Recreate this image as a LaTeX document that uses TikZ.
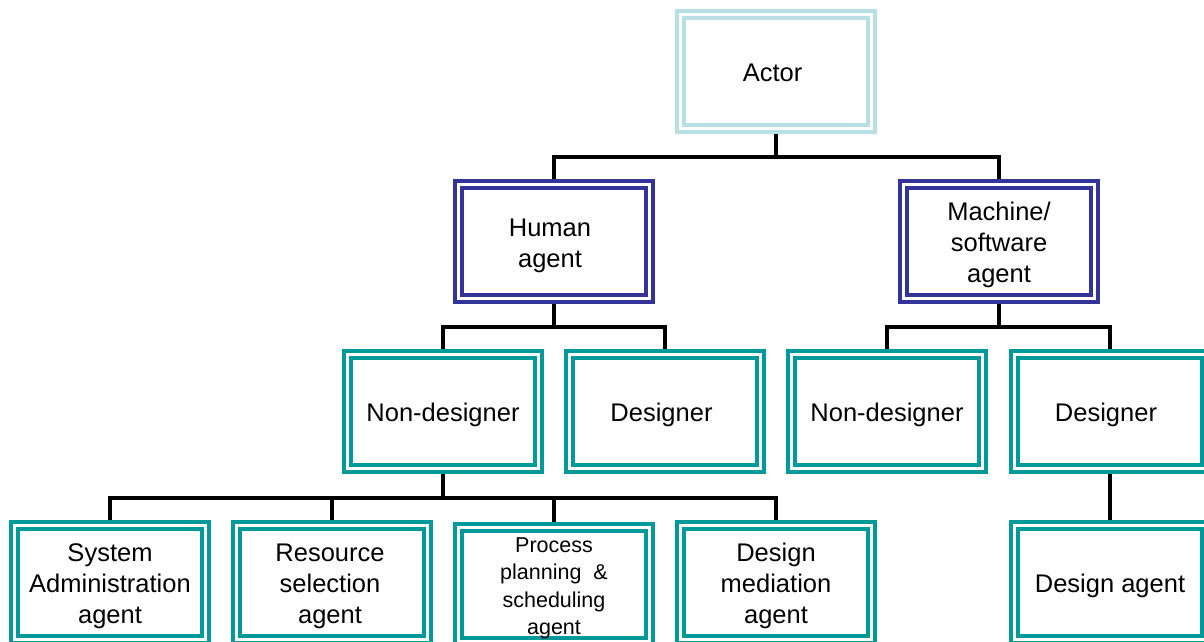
\documentclass[tikz,border=0pt]{standalone}
\usepackage{fontspec}
\setmainfont{Liberation Sans}
\usetikzlibrary{backgrounds}
\definecolor{actorc}{RGB}{184,224,228}
\definecolor{humanc}{RGB}{51,51,153}
\definecolor{tealc}{RGB}{0,153,153}
% centred multi-line box label, lowered slightly; optional kern moves it sideways
\newcommand{\boxtext}[2][0pt]{\kern#1\raisebox{-4pt}[\height][\depth]{\begin{tabular}{@{}c@{}}#2\end{tabular}}}
\tikzset{
  box/.style={draw=#1, double=white, line width=4pt, double distance=3pt,
    fill=white, inner sep=0pt, minimum width=191pt, minimum height=114pt,
    align=center, font=\fontsize{25.5}{31}\selectfont},
  conn/.style={draw=black, line width=4.5pt}
}
\begin{document}
\begin{tikzpicture}[x=1pt,y=-1pt]
\useasboundingbox (0,0) rectangle (1204,641);
% level 0
\node[box=actorc] (actor) at (776,71.5) {\boxtext[-7pt]{Actor}};
% level 1
\node[box=humanc] (human) at (554,241.5) {\boxtext[-8pt]{Human\\agent}};
\node[box=humanc] (machine) at (999,241.5) {\boxtext{Machine/\\software\\agent}};
% level 2
\node[box=tealc] (hnond) at (443,411.5) {\boxtext{Non-designer}};
\node[box=tealc] (hdes) at (665,411.5) {\boxtext[-7pt]{Designer}};
\node[box=tealc] (mnond) at (887,411.5) {\boxtext{Non-designer}};
\node[box=tealc] (mdes) at (1110,411.5) {\boxtext[-8pt]{Designer}};
% level 3
\node[box=tealc] (sysadm) at (110,582.5) {\boxtext{System\\Administration\\agent}};
\node[box=tealc] (ressel) at (332,582.5) {\boxtext[-4pt]{Resource\\selection\\agent}};
\node[box=tealc, font=\fontsize{21.5}{27.3}\selectfont] (procplan) at (554,584) {\boxtext{Process\\planning\ \ \&\\scheduling\\agent}};
\node[box=tealc] (desmed) at (776,582.5) {\boxtext{Design\\mediation\\agent}};
\node[box=tealc] (desag) at (1110,582.5) {\boxtext{Design agent}};
% junction points of the tree branches
\coordinate (j0) at (776,157);
\coordinate (j1) at (554,327);
\coordinate (j2) at (999,327);
\coordinate (j3) at (443,498);
\begin{scope}[on background layer]
\draw[conn] (actor) -- (j0);
\draw[conn] (human) |- (j0) -| (machine);
\draw[conn] (human) -- (j1);
\draw[conn] (hnond) |- (j1) -| (hdes);
\draw[conn] (machine) -- (j2);
\draw[conn] (mnond) |- (j2) -| (mdes);
\draw[conn] (hnond) -- (j3);
\draw[conn] (sysadm) |- (j3) -| (desmed);
\draw[conn] (ressel) |- (j3);
\draw[conn] (procplan) |- (j3);
\draw[conn] (mdes) -- (desag);
\end{scope}
\end{tikzpicture}
\end{document}
